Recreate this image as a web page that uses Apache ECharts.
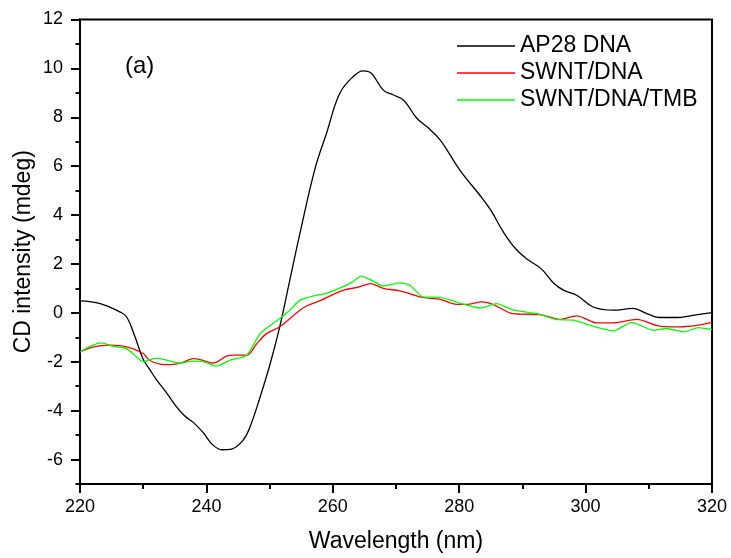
<!DOCTYPE html>
<html>
<head>
<meta charset="utf-8">
<title>CD spectra</title>
<script src="https://cdn.jsdelivr.net/npm/echarts@6/dist/echarts.min.js"></script>
<style>
  html, body { margin: 0; padding: 0; background: #fff; }
  #chart { width: 731px; height: 558px; }
</style>
</head>
<body>
<div id="chart"></div>
<script>
// AP28 DNA
const wlDna = [220, 223.2, 226.3, 227.4, 228.7, 230, 231, 232, 233.5, 235, 236.5, 238, 239.5, 241, 242.5, 244, 245.8, 246.9, 248.5, 250.1, 251.6, 253.2, 254.8, 257.2, 259, 261.1, 263.2, 264.8, 266.1, 268, 269.6, 271.2, 273.3, 274.9, 277, 280.1, 283.3, 285, 287, 289, 291, 293, 295, 296.5, 298.6, 301.2, 304.4, 307.5, 309.7, 311.8, 314.4, 317, 320]
const cdDna = [0.49, 0.38, 0.04, -0.17, -0.98, -1.9, -2.3, -2.7, -3.2, -3.75, -4.2, -4.5, -4.9, -5.4, -5.6, -5.57, -5.21, -4.67, -3.44, -2.07, -0.57, 1.34, 3.25, 5.91, 7.34, 8.98, 9.66, 9.9, 9.8, 9.11, 8.91, 8.7, 7.96, 7.61, 7.07, 5.84, 4.8, 4.2, 3.3, 2.6, 2.15, 1.8, 1.2, 0.93, 0.72, 0.24, 0.11, 0.18, -0.03, -0.19, -0.19, -0.1, 0.01]

// SWNT/DNA
const wlSwnt = [220, 222.1, 224.7, 227.4, 230, 231, 233.4, 235.8, 237.9, 239, 241.1, 243.2, 244.3, 246.4, 248, 249.5, 251.6, 254.8, 256, 258, 260, 262, 264, 266, 268, 270.6, 274.3, 277, 279.6, 281.2, 283.6, 285.4, 288, 289.6, 292.8, 295.9, 298.6, 301.8, 304.4, 308.1, 311.8, 314.9, 317.6, 320]
const cdSwnt = [-1.6, -1.39, -1.32, -1.39, -1.66, -1.94, -2.12, -2.07, -1.87, -1.91, -2.05, -1.77, -1.73, -1.73, -1.25, -0.85, -0.57, 0.11, 0.3, 0.5, 0.75, 0.95, 1.05, 1.2, 1.0, 0.9, 0.63, 0.55, 0.35, 0.35, 0.45, 0.34, 0.0, -0.05, -0.07, -0.27, -0.12, -0.41, -0.41, -0.27, -0.55, -0.57, -0.51, -0.39]

// SWNT/DNA/TMB
const wlTmb = [220, 221.6, 223.4, 225.3, 227.4, 229.2, 230, 232.1, 234, 235.8, 237.9, 239.4, 241.6, 243.7, 246.4, 248.5, 250.1, 251.6, 253.2, 254.8, 257, 259, 261, 263, 264.5, 266, 268, 270.6, 272.2, 274.3, 277, 280.1, 283.3, 285.9, 288.6, 292.3, 295.4, 298.1, 301.2, 304.4, 307.3, 310.7, 312.8, 315.5, 317.8, 320]
const cdTmb = [-1.6, -1.37, -1.23, -1.37, -1.46, -1.87, -2.0, -1.85, -1.95, -2.05, -1.97, -1.98, -2.18, -1.94, -1.73, -0.85, -0.51, -0.23, 0.11, 0.52, 0.7, 0.8, 1.0, 1.25, 1.5, 1.35, 1.1, 1.23, 1.13, 0.65, 0.63, 0.4, 0.2, 0.38, 0.11, -0.03, -0.27, -0.3, -0.55, -0.74, -0.39, -0.71, -0.64, -0.78, -0.6, -0.68]

const font = 'Liberation Sans, Arial, sans-serif'

// plot box in pixels
const plotLeft = 80
const plotRight = 19
const plotTop = 19.5
const plotBottom = 74
const xMin = 220
const xMax = 320
const yMin = -7
const yMax = 12
const yUnitPx = (558 - plotTop - plotBottom) / (yMax - yMin)
const xUnitPx = (731 - plotLeft - plotRight) / (xMax - xMin)

function pairs(xs, ys) {
  return xs.map((x, i) => [x, ys[i]])
}

function lineSeries(name, color, xs, ys, smooth) {
  return {
    name: name,
    type: 'line',
    symbol: 'none',
    smooth: smooth,
    lineStyle: { color: color, width: 1.3 },
    itemStyle: { color: color },
    data: pairs(xs, ys)
  }
}

function makeGrid(top, right, bottom, border) {
  return {
    left: plotLeft,
    right: right,
    top: top,
    bottom: bottom,
    show: border,
    borderColor: '#000',
    borderWidth: 2,
    containLabel: false,
    outerBoundsMode: 'none'
  }
}

// an axis that takes part in layout but draws nothing
function blankAxis(gridIndex, min, max) {
  return {
    gridIndex: gridIndex,
    type: 'value',
    min: min,
    max: max,
    axisLine: { show: false, onZero: false },
    axisTick: { show: false },
    axisLabel: { show: false },
    splitLine: { show: false }
  }
}

const tickLine = { color: '#000', width: 2 }

const chart = echarts.init(document.getElementById('chart'))

chart.setOption({
  animation: false,
  textStyle: { fontFamily: font },
  grid: [
    makeGrid(plotTop, plotRight, plotBottom, true),                      // 0: data
    makeGrid(plotTop - yUnitPx, plotRight, plotBottom + yUnitPx, false), // 1: y -6..13, long ticks
    makeGrid(plotTop, plotRight, plotBottom, false),                     // 2: x labels
    makeGrid(plotTop, plotRight, plotBottom + yUnitPx, false),           // 3: y labels -6..12
    makeGrid(plotTop, plotRight - 10 * xUnitPx, plotBottom, false)       // 4: x 220..330, ticks
  ],
  legend: {
    orient: 'vertical',
    left: 457,
    top: 34.5,
    padding: 0,
    itemGap: 4,
    itemWidth: 58,
    itemHeight: 1.4,
    icon: 'rect',
    textStyle: { fontSize: 23, lineHeight: 23, color: '#000', fontFamily: font },
    data: ['AP28 DNA', 'SWNT/DNA', 'SWNT/DNA/TMB']
  },
  graphic: [{
    type: 'text',
    left: 125,
    top: 54,
    style: { text: '(a)', fontSize: 24, fontFamily: font, fill: '#000' }
  }],
  xAxis: [{
    // main x axis: line only
    gridIndex: 0,
    type: 'value',
    min: xMin,
    max: xMax,
    axisLine: { show: true, onZero: false, lineStyle: { color: '#000', width: 2 } },
    axisTick: { show: false },
    axisLabel: { show: false },
    splitLine: { show: false }
  },
  blankAxis(1, xMin, xMax),
  {
    // x tick labels and name
    gridIndex: 2,
    type: 'value',
    min: xMin,
    max: xMax,
    interval: 20,
    name: 'Wavelength (nm)',
    nameLocation: 'middle',
    nameGap: 46,
    nameTextStyle: { fontSize: 23, color: '#000', fontFamily: font },
    axisLine: { show: false, onZero: false },
    axisTick: { show: false },
    axisLabel: { show: true, fontSize: 18, color: '#000', margin: 14, fontFamily: font },
    splitLine: { show: false }
  },
  blankAxis(3, xMin, xMax),
  {
    // x ticks every 20 with minor ticks between, range runs one step past 320
    gridIndex: 4,
    type: 'value',
    min: xMin,
    max: xMax + 10,
    interval: 20,
    axisLine: { show: false, onZero: false },
    axisTick: { show: true, inside: false, length: 9, lineStyle: tickLine },
    minorTick: { show: true, splitNumber: 2, length: 5, lineStyle: tickLine },
    axisLabel: { show: false },
    splitLine: { show: false }
  }],
  yAxis: [{
    // main y axis: line, name and the odd (unlabelled) ticks
    gridIndex: 0,
    type: 'value',
    min: yMin,
    max: yMax,
    interval: 2,
    name: 'CD intensity (mdeg)',
    nameLocation: 'middle',
    nameGap: 45,
    nameTextStyle: { fontSize: 23, color: '#000', fontFamily: font },
    axisLine: { show: true, lineStyle: { color: '#000', width: 2 } },
    axisTick: { show: true, inside: false, length: 4.5, lineStyle: tickLine },
    axisLabel: { show: false },
    splitLine: { show: false }
  }, {
    // long ticks at -6, -4, ... 12 (range runs one unit past the top)
    gridIndex: 1,
    type: 'value',
    min: -6,
    max: yMax + 1,
    interval: 2,
    axisLine: { show: false },
    axisTick: { show: true, inside: false, length: 9, lineStyle: tickLine },
    axisLabel: { show: false },
    splitLine: { show: false }
  },
  blankAxis(2, yMin, yMax),
  {
    // y tick labels only
    gridIndex: 3,
    type: 'value',
    min: -6,
    max: yMax,
    interval: 2,
    axisLine: { show: false },
    axisTick: { show: false },
    axisLabel: { show: true, fontSize: 18, color: '#000', margin: 17, fontFamily: font },
    splitLine: { show: false }
  },
  blankAxis(4, yMin, yMax)],
  series: [
    lineSeries('AP28 DNA', '#000000', wlDna, cdDna, 0.4),
    lineSeries('SWNT/DNA', '#ff0000', wlSwnt, cdSwnt, 0.3),
    lineSeries('SWNT/DNA/TMB', '#00ff00', wlTmb, cdTmb, 0.2)
  ]
})
</script>
</body>
</html>
